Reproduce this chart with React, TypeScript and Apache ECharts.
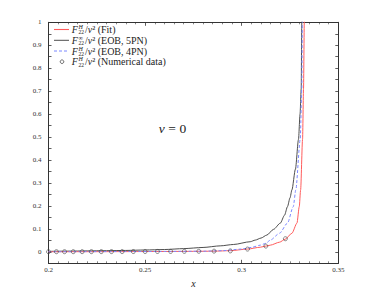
import React, { useEffect, useRef } from "react";
import * as echarts from "echarts";

// ---- data ----
const fitX = [0.2, 0.22, 0.24, 0.26, 0.27, 0.28, 0.2857, 0.2941, 0.303, 0.3096, 0.3125, 0.3148, 0.3196, 0.3225, 0.326, 0.3286, 0.3298, 0.3305, 0.3315, 0.332, 0.3324, 0.3328];
const fitY = [0.0004, 0.0007, 0.001, 0.0015, 0.0019, 0.0024, 0.003, 0.005, 0.012, 0.02, 0.025, 0.029, 0.042, 0.055, 0.081, 0.125, 0.197, 0.27, 0.49, 0.71, 1.0, 1.3];

const eob5X = [0.2, 0.21, 0.22, 0.23, 0.24, 0.25, 0.26, 0.27, 0.28, 0.2889, 0.2958, 0.3044, 0.307, 0.31, 0.313, 0.3165, 0.32, 0.3222, 0.3237, 0.325, 0.326, 0.3278, 0.3294, 0.3302, 0.3308, 0.3311, 0.3315];
const eob5Y = [0.002, 0.003, 0.004, 0.005, 0.006, 0.008, 0.01, 0.014, 0.019, 0.026, 0.032, 0.044, 0.051, 0.06, 0.073, 0.098, 0.125, 0.16, 0.197, 0.235, 0.27, 0.36, 0.49, 0.6, 0.71, 1.0, 1.3];

const eob4X = [0.2, 0.22, 0.24, 0.26, 0.28, 0.29, 0.3, 0.305, 0.3096, 0.3125, 0.3148, 0.3196, 0.3237, 0.3267, 0.328, 0.3303, 0.3311, 0.3314, 0.3318];
const eob4Y = [0.0005, 0.0008, 0.0012, 0.0017, 0.0026, 0.005, 0.012, 0.019, 0.029, 0.037, 0.051, 0.081, 0.125, 0.197, 0.27, 0.49, 0.71, 1.0, 1.3];

const numX = [0.2, 0.2041, 0.2083, 0.2128, 0.2174, 0.2222, 0.2273, 0.2326, 0.2381, 0.2439, 0.25, 0.2564, 0.2632, 0.2703, 0.2778, 0.2857, 0.2941, 0.303, 0.3125, 0.3226];
const numY = [0.0004, 0.0005, 0.0005, 0.0006, 0.0007, 0.0008, 0.0009, 0.001, 0.0011, 0.0012, 0.0014, 0.0016, 0.0018, 0.0021, 0.0025, 0.003, 0.004, 0.012, 0.025, 0.057];

const legendSup = ["H", "∞", "H", "H"];
const legendTail = [" (Fit)", " (EOB, 5PN)", " (EOB, 4PN)", " (Numerical data)"];
const seriesNames = ["Fit", "EOB, 5PN", "EOB, 4PN", "Numerical data"];

const xTicks = { min: 0.2, max: 0.35, interval: 0.05 };
const yTicks = { min: -0.05, max: 1, interval: 0.05 };

const pairs = (xs: number[], ys: number[]) => xs.map((x, i) => [x, ys[i]]);

const SERIF = "'Liberation Serif', 'DejaVu Serif', serif";
const RED = "#ff5c5c";
const BLACK = "#3a3a3a";
const BLUE = "#7b88ff";
const AXIS = "#333";

export default function App() {
  const ref = useRef<HTMLDivElement>(null);
  useEffect(() => {
    if (!ref.current) return;
    const chart = echarts.init(ref.current, undefined, { renderer: "svg" });

    const rowsY = [29.5, 40.3, 51, 61.7];
    const legendGraphics: any[] = [];
    const lineStyles: any[] = [
      { stroke: RED, lineWidth: 1.1 },
      { stroke: BLACK, lineWidth: 0.9 },
      { stroke: BLUE, lineWidth: 1, lineDash: [3, 2] },
    ];
    rowsY.forEach((y, i) => {
      if (i < 3) {
        legendGraphics.push({
          type: "line",
          shape: { x1: 54, y1: y, x2: 69, y2: y },
          style: lineStyles[i],
          z: 10,
        });
      } else {
        legendGraphics.push({
          type: "circle",
          shape: { cx: 62, cy: y, r: 1.8 },
          style: { fill: "rgba(0,0,0,0)", stroke: "#444", lineWidth: 0.8 },
          z: 10,
        });
      }
      legendGraphics.push({
        type: "text",
        x: 71.8,
        y,
        style: { text: "F", fontSize: 10, fontStyle: "italic", fontFamily: SERIF, fill: "#222", verticalAlign: "middle", align: "left" },
      });
      legendGraphics.push({
        type: "text",
        x: 78.6,
        y: y + 0.3,
        style: {
          text: "{h|" + legendSup[i] + "}\n{n|22}",
          fontFamily: SERIF,
          fontSize: 6,
          lineHeight: 5.2,
          fill: "#222",
          verticalAlign: "middle",
          align: "left",
          rich: {
            h: { fontSize: 6, fontStyle: "italic", fontFamily: SERIF, lineHeight: 5.2, fill: "#222" },
            n: { fontSize: 5.5, fontFamily: SERIF, lineHeight: 5.2, fill: "#222" },
          },
        },
      });
      legendGraphics.push({
        type: "text",
        x: 85,
        y,
        style: {
          text: "/{i|ν}²" + legendTail[i],
          fontSize: 10,
          fontFamily: SERIF,
          fill: "#222",
          verticalAlign: "middle",
          align: "left",
          rich: { i: { fontSize: 10, fontStyle: "italic", fontFamily: SERIF, fill: "#222" } },
        },
      });
    });

    const baseX = {
      type: "value" as const,
      min: xTicks.min,
      max: xTicks.max,
      interval: xTicks.interval,
      splitLine: { show: false },
      axisLine: { show: true, onZero: false, lineStyle: { color: AXIS, width: 1 } },
      axisTick: { show: true, inside: true, length: 3.5, lineStyle: { color: AXIS, width: 0.8 } },
      minorTick: { show: true, splitNumber: 10, length: 2, lineStyle: { color: AXIS, width: 0.6 } },
    };
    const baseY = {
      type: "value" as const,
      min: yTicks.min,
      max: yTicks.max,
      interval: yTicks.interval,
      splitLine: { show: false },
      axisLine: { show: true, onZero: false, lineStyle: { color: AXIS, width: 1 } },
      axisTick: { show: true, inside: true, length: 3, lineStyle: { color: AXIS, width: 0.8 } },
    };

    chart.setOption({
      animation: false,
      grid: { left: 48.5, right: 35.7, top: 22.3, bottom: 33.7, containLabel: false },
      xAxis: [
        {
          ...baseX,
          position: "bottom",
          name: "x",
          nameLocation: "middle",
          nameGap: 13,
          nameTextStyle: { fontFamily: SERIF, fontStyle: "italic", fontSize: 10, color: "#222" },
          axisLabel: {
            fontFamily: SERIF,
            fontSize: 7,
            color: "#333",
            margin: 3,
            formatter: (v: number) => String(Math.round(v * 100) / 100),
          },
        },
        { ...baseX, position: "top", axisLabel: { show: false } },
      ],
      yAxis: [
        {
          ...baseY,
          position: "left",
          axisLabel: {
            fontFamily: SERIF,
            fontSize: 7,
            color: "#333",
            margin: 7,
            formatter: (v: number) => {
              const k = Math.round(v * 20);
              if (k < 0 || k % 2 !== 0) return "";
              return String(Math.round(v * 10) / 10);
            },
          },
        },
        { ...baseY, position: "right", axisLabel: { show: false } },
      ],
      series: [
        {
          name: seriesNames[1],
          type: "line",
          data: pairs(eob5X, eob5Y),
          showSymbol: false,
          smooth: 0.25,
          smoothMonotone: "x",
          lineStyle: { color: BLACK, width: 0.9 },
          clip: true,
          z: 2,
        },
        {
          name: seriesNames[0],
          type: "line",
          data: pairs(fitX, fitY),
          showSymbol: false,
          smooth: 0.25,
          smoothMonotone: "x",
          lineStyle: { color: RED, width: 1 },
          clip: true,
          z: 3,
        },
        {
          name: seriesNames[2],
          type: "line",
          data: pairs(eob4X, eob4Y),
          showSymbol: false,
          smooth: 0.25,
          smoothMonotone: "x",
          lineStyle: { color: BLUE, width: 1, type: [3, 2] },
          clip: true,
          z: 4,
        },
        {
          name: seriesNames[3],
          type: "scatter",
          data: pairs(numX, numY),
          symbol: "circle",
          symbolSize: 4,
          itemStyle: { color: "rgba(0,0,0,0)", borderColor: "#444", borderWidth: 0.8 },
          z: 5,
        },
      ],
      graphic: [
        ...legendGraphics,
        {
          type: "text",
          x: 172.5,
          y: 128,
          style: {
            text: "{i|ν}{s|=}{n|0}",
            align: "center",
            verticalAlign: "middle",
            fontFamily: SERIF,
            fontSize: 13.5,
            fill: "#222",
            rich: {
              i: { fontStyle: "italic", fontFamily: SERIF, fontSize: 13.5, fill: "#222" },
              s: { fontFamily: SERIF, fontSize: 13.5, fill: "#222", padding: [0, 3.5, 0, 3.5] },
              n: { fontFamily: SERIF, fontSize: 13.5, fill: "#222" },
            },
          },
        },
      ],
    });
    return () => chart.dispose();
  }, []);
  return (
    <div
      ref={ref}
      style={{ position: "fixed", left: 0, top: 0, width: 374, height: 297, background: "#fff" }}
    />
  );
}
